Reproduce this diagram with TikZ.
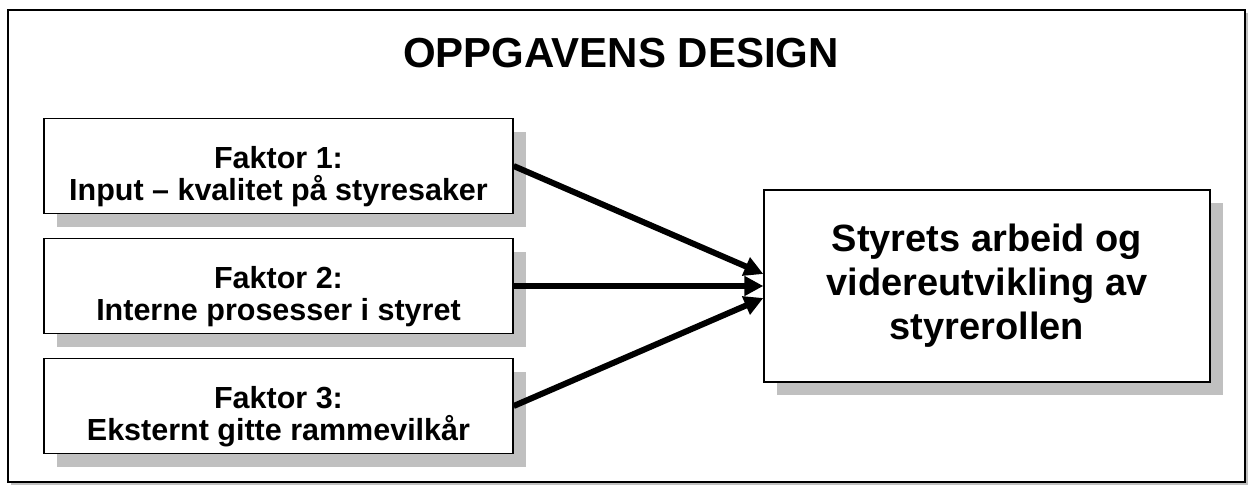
\documentclass[tikz,border=0pt]{standalone}
\usepackage{fontspec}
\setmainfont{Liberation Sans}
\usetikzlibrary{arrows.meta,shadows}
\definecolor{shadowgray}{HTML}{C0C0C0}
\newcommand{\topstrut}{\rule{0pt}{44pt}}
\tikzset{
  x=1pt, y=-1pt,
  factorbox/.style={draw, line width=1.3pt, fill=white, minimum width=469pt, minimum height=95pt,
    align=center, font=\fontsize{30.5}{32}\selectfont\bfseries, inner sep=0pt,
    drop shadow={shadow xshift=13pt, shadow yshift=-13pt, fill=shadowgray, opacity=1}},
  mainbox/.style={draw, line width=1.3pt, fill=white, minimum width=446pt, minimum height=192pt,
    align=center, font=\fontsize{38}{44}\selectfont\bfseries, inner sep=0pt,
    drop shadow={shadow xshift=13pt, shadow yshift=-13pt, fill=shadowgray, opacity=1}},
  bigarrow/.style={line width=6pt, -{Triangle[length=19pt,width=19pt]}},
}
\begin{document}
\begin{tikzpicture}
\useasboundingbox (0,0) rectangle (1253,493);
\fill[shadowgray] (11,13) rectangle (1248,485);
\node[draw, line width=1.8pt, fill=white, minimum width=1237pt, minimum height=472pt, inner sep=0pt] (frame) at (626.5,246) {};
\node[font=\fontsize{42}{48}\selectfont\bfseries] (title) at (621,53) {OPPGAVENS DESIGN};
\node[factorbox] (f1) at (278.5,166) {\topstrut Faktor 1:\\Input – kvalitet på styresaker};
\node[factorbox] (f2) at (278.5,286) {\topstrut Faktor 2:\\Interne prosesser i styret};
\node[factorbox] (f3) at (278.5,406) {\topstrut Faktor 3:\\Eksternt gitte rammevilkår};
\node[mainbox] (m) at (987,286) {Styrets arbeid og\\videreutvikling av\\styrerollen};
\coordinate (m1) at ([yshift=12pt]m.west);
\coordinate (m3) at ([yshift=-12pt]m.west);
\draw[bigarrow] (f1.east) -- (m1);
\draw[bigarrow] (f2.east) -- (m.west);
\draw[bigarrow] (f3.east) -- (m3);
\end{tikzpicture}
\end{document}
